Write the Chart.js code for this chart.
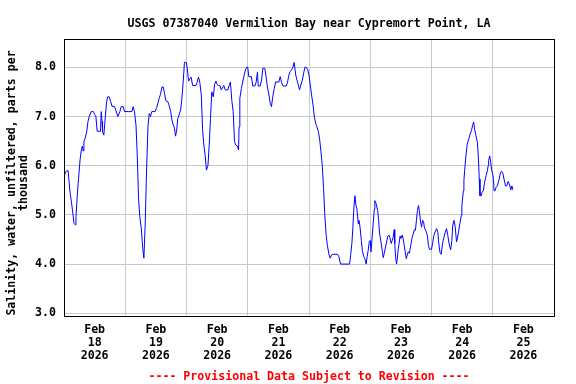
<!DOCTYPE html>
<html>
<head>
<meta charset="utf-8">
<title>USGS 07387040</title>
<script src="https://cdn.jsdelivr.net/npm/chart.js@4.4.1/dist/chart.umd.min.js"></script>
<style>
  html, body { margin: 0; padding: 0; background: #fff; }
</style>
</head>
<body>
<canvas id="chart" width="576" height="384"></canvas>
<script>
// hours since Feb 18 2026 00:00
const hours = [
  0.1, 0.5, 0.9, 1.6, 2.0, 2.4, 2.9, 3.4, 3.9, 4.4, 4.7, 5.2, 5.7, 6.3, 6.8, 7.2, 7.5, 7.8, 8.3, 8.9,
  9.4, 9.9, 10.7, 11.5, 12.0, 12.5, 13.0, 13.8, 14.3, 14.6, 14.9, 15.1, 15.6, 16.2, 16.7, 17.1, 17.7, 18.3, 18.8, 19.8,
  20.3, 21.1, 21.9, 22.4, 23.2, 23.7, 25.3, 26.6, 27.1, 27.6, 28.2, 28.7, 29.2, 29.7, 30.3, 30.8, 31.3, 31.8, 32.3, 32.9,
  33.4, 33.9, 34.4, 35.7, 36.3, 36.8, 37.3, 37.8, 38.4, 38.9, 39.4, 39.9, 40.7, 41.2, 41.8, 42.3, 42.8, 43.3, 43.7, 44.1,
  44.6, 45.1, 45.7, 46.2, 46.7, 47.2, 47.9, 48.3, 48.8, 49.3, 49.8, 50.4, 51.7, 52.2, 52.7, 53.2, 53.8, 54.3, 54.8, 55.3,
  55.8, 56.4, 56.9, 57.4, 57.9, 58.5, 59.0, 59.5, 60.0, 60.5, 61.1, 61.6, 62.1, 62.6, 63.2, 64.2, 64.7, 65.2, 65.8, 66.3,
  66.8, 67.3, 67.9, 68.4, 68.6, 68.9, 69.5, 70.0, 70.6, 71.1, 71.6, 72.0, 72.4, 73.4, 74.0, 74.8, 75.3, 75.8, 76.1, 76.9,
  77.4, 77.9, 78.7, 79.2, 79.7, 80.3, 80.8, 81.3, 81.8, 82.4, 82.9, 84.2, 84.7, 85.2, 85.8, 87.1, 87.6, 88.1, 88.6, 89.2,
  89.7, 90.2, 90.8, 91.3, 91.8, 92.3, 92.8, 93.4, 93.9, 94.4, 94.9, 95.5, 96.0, 96.5, 97.0, 97.6, 98.1, 98.6, 99.1, 99.7,
  100.2, 100.7, 101.2, 101.7, 102.2, 102.7, 103.2, 103.8, 104.3, 104.9, 105.4, 107.2, 107.7, 108.3, 108.5, 111.9, 112.3, 112.8, 113.2, 113.6,
  114.0, 114.4, 114.8, 115.3, 115.6, 116.0, 116.5, 116.9, 117.4, 117.9, 118.4, 118.8, 119.2, 119.6, 120.0, 120.3, 120.8, 121.2, 121.6, 121.8,
  122.3, 122.9, 123.3, 123.6, 124.2, 124.7, 125.1, 125.5, 126.0, 126.4, 126.9, 127.3, 127.7, 128.2, 128.6, 129.0, 129.4, 129.6, 129.9, 130.3,
  130.6, 130.9, 131.3, 131.7, 132.1, 132.5, 132.9, 133.3, 133.7, 134.1, 134.5, 134.9, 135.3, 135.6, 136.0, 136.4, 136.9, 137.3, 137.7, 138.1,
  138.5, 138.9, 139.3, 139.7, 140.1, 140.5, 140.9, 141.2, 141.6, 142.0, 142.4, 142.8, 143.2, 144.0, 144.4, 144.9, 145.4, 146.0, 146.5, 146.8,
  147.3, 147.8, 148.3, 148.9, 149.4, 149.9, 150.4, 150.9, 151.5, 152.0, 152.3, 152.8, 153.3, 153.8, 154.1, 154.6, 155.1, 155.7, 155.9, 156.5,
  156.7, 157.0, 157.5, 158.0, 158.6, 159.1, 159.6, 160.1, 160.5, 160.9, 161.4, 162.0, 162.4, 162.7, 163.0, 163.5, 163.8, 164.3, 164.8, 165.4,
  165.9, 166.2, 166.4, 166.8, 167.2, 167.6, 168.0, 168.3, 168.5, 168.9, 169.3, 169.8, 170.4, 170.9, 171.4, 171.9, 172.4, 173.0, 173.5, 174.0,
  174.5, 175.1, 175.5, 175.9
];
// salinity, parts per thousand
const salinity = [
  5.80, 5.85, 5.89, 5.90, 5.67, 5.44, 5.27, 5.06, 4.83, 4.80, 4.96, 5.40, 5.74, 6.12, 6.32, 6.40, 6.30, 6.49, 6.56, 6.69,
  6.90, 7.00, 7.10, 7.10, 7.04, 7.00, 6.70, 6.70, 6.70, 7.10, 6.90, 6.70, 6.62, 7.00, 7.30, 7.40, 7.40, 7.30, 7.21, 7.20,
  7.13, 7.00, 7.10, 7.20, 7.20, 7.10, 7.10, 7.10, 7.20, 7.10, 6.83, 6.22, 5.34, 4.96, 4.72, 4.35, 4.12, 4.79, 5.81, 6.79,
  7.06, 7.00, 7.10, 7.10, 7.18, 7.27, 7.37, 7.45, 7.60, 7.60, 7.47, 7.32, 7.30, 7.22, 7.10, 6.93, 6.83, 6.76, 6.60, 6.70,
  6.96, 7.03, 7.13, 7.37, 7.70, 8.10, 8.10, 7.98, 7.72, 7.76, 7.80, 7.63, 7.63, 7.70, 7.80, 7.70, 7.44, 6.73, 6.42, 6.22,
  5.91, 6.00, 6.42, 6.96, 7.50, 7.40, 7.65, 7.72, 7.65, 7.63, 7.63, 7.54, 7.58, 7.63, 7.54, 7.54, 7.63, 7.70, 7.30, 7.10,
  6.49, 6.42, 6.40, 6.32, 6.79, 7.37, 7.57, 7.70, 7.84, 7.95, 8.00, 8.00, 7.81, 7.81, 7.62, 7.62, 7.70, 7.90, 7.62, 7.62,
  7.74, 7.98, 7.98, 7.80, 7.60, 7.44, 7.27, 7.20, 7.40, 7.57, 7.70, 7.70, 7.81, 7.70, 7.62, 7.62, 7.70, 7.84, 7.91, 7.95,
  8.00, 8.10, 7.84, 7.74, 7.64, 7.54, 7.64, 7.74, 7.88, 8.00, 8.00, 7.95, 7.84, 7.64, 7.44, 7.23, 6.99, 6.86, 6.79, 6.69,
  6.52, 6.28, 6.00, 5.54, 5.00, 4.60, 4.38, 4.20, 4.12, 4.19, 4.20, 4.20, 4.15, 4.01, 4.00, 4.00, 4.18, 4.42, 4.75, 5.16,
  5.39, 5.19, 5.12, 4.82, 4.89, 4.75, 4.48, 4.28, 4.16, 4.11, 4.00, 4.16, 4.28, 4.45, 4.48, 4.25, 4.59, 4.86, 5.12, 5.29,
  5.23, 5.09, 4.89, 4.65, 4.45, 4.28, 4.13, 4.22, 4.35, 4.45, 4.57, 4.59, 4.54, 4.42, 4.48, 4.55, 4.70, 4.42, 4.16, 4.00,
  4.11, 4.28, 4.42, 4.57, 4.52, 4.59, 4.52, 4.38, 4.25, 4.11, 4.18, 4.25, 4.22, 4.30, 4.42, 4.54, 4.62, 4.70, 4.69, 4.89,
  5.09, 5.19, 5.06, 4.86, 4.75, 4.89, 4.86, 4.75, 4.69, 4.65, 4.57, 4.38, 4.30, 4.30, 4.41, 4.58, 4.65, 4.72, 4.65, 4.45,
  4.24, 4.20, 4.41, 4.55, 4.65, 4.72, 4.58, 4.41, 4.29, 4.48, 4.78, 4.89, 4.75, 4.45, 4.51, 4.65, 4.82, 4.99, 5.19, 5.49,
  5.70, 5.91, 6.20, 6.44, 6.54, 6.64, 6.71, 6.81, 6.89, 6.74, 6.61, 6.47, 6.14, 5.73, 5.39, 5.39, 5.46, 5.49, 5.66, 5.80,
  5.90, 6.00, 6.11, 6.20, 6.07, 5.90, 5.83, 5.70, 5.49, 5.49, 5.56, 5.59, 5.70, 5.83, 5.89, 5.86, 5.73, 5.59, 5.59, 5.68,
  5.63, 5.51, 5.59, 5.51
];
const monthLabel = 'Feb';
const yearLabel = '2026';
const dayLabels = ['18', '19', '20', '21', '22', '23', '24', '25'];
const yTicks = [3, 4, 5, 6, 7, 8];

const titleText = 'USGS 07387040 Vermilion Bay near Cypremort Point, LA';
const yTitle = ['Salinity, water, unfiltered, parts per', 'thousand'];
const footerText = '---- Provisional Data Subject to Revision ----';

const FONT = '"DejaVu Sans Mono", "Liberation Mono", monospace';
const GRID = '#c8c8c8';

// ticks every 12 h: gridlines at midnight, labels at noon
const xTickHours = [];
for (let h = 0; h <= 24 * dayLabels.length; h += 12) xTickHours.push(h);

// titles, footer and the box round the plot
const decorations = {
  id: 'decorations',
  afterDraw(chart) {
    const ctx = chart.ctx;
    const a = chart.chartArea;
    const cx = (a.left + a.right) / 2;
    ctx.save();
    ctx.strokeStyle = '#000';
    ctx.lineWidth = 1;
    ctx.strokeRect(a.left + 0.5, a.top + 0.5, a.right - a.left, a.bottom - a.top);

    ctx.font = 'bold 11.6px ' + FONT;
    ctx.fillStyle = '#000';
    ctx.textAlign = 'center';
    ctx.textBaseline = 'alphabetic';
    ctx.fillText(titleText, cx, 27);

    ctx.fillStyle = '#ff0000';
    ctx.fillText(footerText, cx, 380);

    ctx.fillStyle = '#000';
    ctx.textBaseline = 'middle';
    ctx.translate(0, 183);
    ctx.rotate(-Math.PI / 2);
    ctx.fillText(yTitle[0], 0, 12);
    ctx.fillText(yTitle[1], 0, 24);
    ctx.restore();
  }
};

Chart.defaults.font.family = FONT;
Chart.defaults.font.size = 11.6;
Chart.defaults.font.weight = 'bold';
Chart.defaults.color = '#000';

new Chart(document.getElementById('chart'), {
  type: 'line',
  data: {
    datasets: [{
      data: hours.map((h, i) => ({ x: h, y: salinity[i] })),
      borderColor: '#0000ff',
      borderWidth: 1,
      pointRadius: 0,
      tension: 0,
      fill: false
    }]
  },
  options: {
    responsive: false,
    animation: false,
    layout: { padding: { top: 39, right: 22, left: 0, bottom: 0 } },
    plugins: {
      legend: { display: false },
      title: { display: false },
      tooltip: { enabled: false }
    },
    scales: {
      x: {
        type: 'linear',
        min: 0,
        max: 24 * dayLabels.length,
        afterBuildTicks: scale => { scale.ticks = xTickHours.map(v => ({ value: v })); },
        afterFit: scale => { scale.height = 68; },
        border: { display: false },
        grid: {
          drawTicks: false,
          color: c => (c.tick && c.tick.value % 24 === 0) ? GRID : 'rgba(0,0,0,0)'
        },
        ticks: {
          autoSkip: false,
          maxRotation: 0,
          padding: 7.5,
          font: { lineHeight: 13 / 11.6 },
          callback: value => {
            if (value % 24 !== 12) return '';
            return [monthLabel, dayLabels[(value - 12) / 24], yearLabel];
          }
        }
      },
      y: {
        min: 2.945,
        max: 8.575,
        afterBuildTicks: scale => { scale.ticks = yTicks.map(v => ({ value: v })); },
        afterFit: scale => { scale.width = 64; },
        border: { display: false },
        grid: { drawTicks: false, color: GRID },
        ticks: {
          padding: 8,
          callback: value => value.toFixed(1)
        }
      }
    }
  },
  plugins: [decorations]
});
</script>
</body>
</html>
